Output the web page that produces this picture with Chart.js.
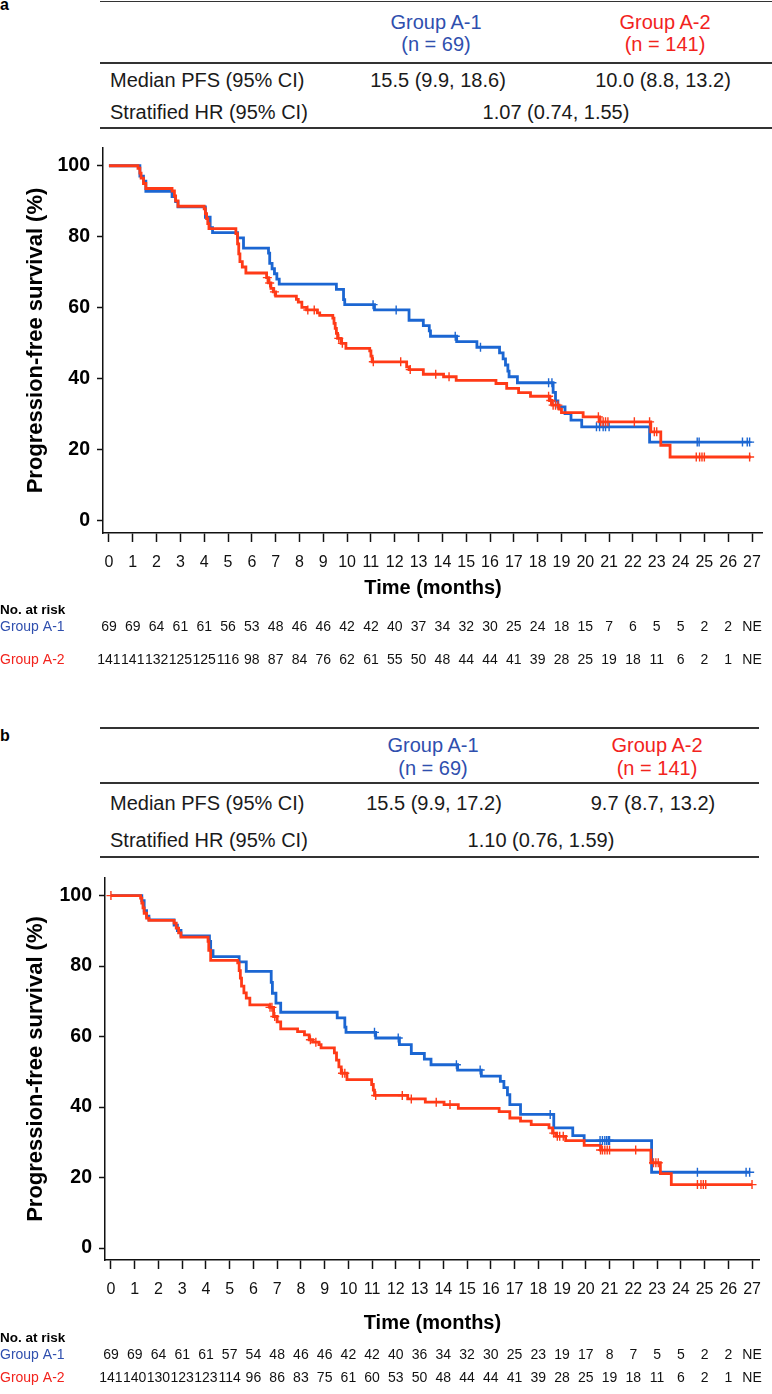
<!DOCTYPE html>
<html lang="en">
<head>
<meta charset="UTF-8">
<title>Progression-free survival</title>
<style>
  body { margin: 0; background: #fff; font-family: 'Liberation Sans', Arial, sans-serif; }
  #page { position: relative; width: 772px; height: 1394px; overflow: hidden; }
  canvas { position: absolute; left: 0; }
  .t { position: absolute; font-size: 20px; line-height: 24px; color: #1a1a1a; white-space: nowrap; }
  .c { transform: translateX(-50%); }
  .rule { position: absolute; height: 1.5px; background: #333; }
  .blue { color: #2f4fae; }
  .red { color: #f2231d; }
  .panel { position: absolute; left: 0; font-weight: bold; font-size: 16px; line-height: 16px; color: #000; }
</style>
</head>
<body>
<div id="page">
  <!-- panel a summary -->
  <div class="panel" style="top:-3px">a</div>
  <div class="rule" style="top:0.5px;left:100px;width:672px"></div>
  <div class="t c blue" style="top:10px;left:436px">Group A-1</div>
  <div class="t c blue" style="top:32px;left:436px">(n = 69)</div>
  <div class="t c red" style="top:10px;left:665px">Group A-2</div>
  <div class="t c red" style="top:32px;left:665px">(n = 141)</div>
  <div class="rule" style="top:62px;left:100px;width:672px"></div>
  <div class="t" style="top:68px;left:110px">Median PFS (95% CI)</div>
  <div class="t c" style="top:68px;left:438px">15.5 (9.9, 18.6)</div>
  <div class="t c" style="top:68px;left:663px">10.0 (8.8, 13.2)</div>
  <div class="t" style="top:100px;left:110px">Stratified HR (95% CI)</div>
  <div class="t c" style="top:100px;left:556px">1.07 (0.74, 1.55)</div>
  <div class="rule" style="top:127px;left:100px;width:672px"></div>
  <canvas id="chartA" width="772" height="690" style="top:0"></canvas>

  <!-- panel b summary -->
  <div class="panel" style="top:728px">b</div>
  <div class="rule" style="top:727px;left:100px;width:659px"></div>
  <div class="t c blue" style="top:733px;left:433px">Group A-1</div>
  <div class="t c blue" style="top:756px;left:433px">(n = 69)</div>
  <div class="t c red" style="top:733px;left:657px">Group A-2</div>
  <div class="t c red" style="top:756px;left:657px">(n = 141)</div>
  <div class="rule" style="top:782px;left:100px;width:659px"></div>
  <div class="t" style="top:791px;left:110px">Median PFS (95% CI)</div>
  <div class="t c" style="top:791px;left:434px">15.5 (9.9, 17.2)</div>
  <div class="t c" style="top:791px;left:653px">9.7 (8.7, 13.2)</div>
  <div class="t" style="top:828px;left:110px">Stratified HR (95% CI)</div>
  <div class="t c" style="top:828px;left:541px">1.10 (0.76, 1.59)</div>
  <div class="rule" style="top:856px;left:100px;width:659px"></div>
  <canvas id="chartB" width="772" height="704" style="top:690px"></canvas>
</div>

<script src="https://cdn.jsdelivr.net/npm/chart.js@4.4.1/dist/chart.umd.min.js"></script>
<script>
  const months = [0,1,2,3,4,5,6,7,8,9,10,11,12,13,14,15,16,17,18,19,20,21,22,23,24,25,26,27];
  const yTicks = [0, 20, 40, 60, 80, 100];

  // panel a - Group A-1
  const aA1Time = [0,1.3,1.45,1.55,2.65,2.8,2.9,4.05,4.25,4.35,5.4,5.65,6.7,6.75,6.85,6.95,7.05,7.15,9.55,9.85,9.9,11.15,12.6,13.2,13.45,13.5,14.6,15.45,16.4,16.55,16.65,16.75,16.8,17.15,18.65,18.75,18.85,19.15,19.4,19.85,22.7,26.9];
  const aA1Surv = [100,97.1,95.7,92.8,91.3,89.9,88.4,85.5,82.6,81.2,79.7,76.8,75.4,72.5,71.0,69.6,68.1,66.7,65.2,62.3,60.9,59.4,56.5,55.0,53.5,52.0,50.5,48.9,47.3,45.6,43.9,42.2,40.6,38.9,36.2,33.8,32.1,30.2,28.4,26.5,22.2,22.2];
  const aA1Cens = [11.09,12.06,14.54,15.6,18.46,18.6,20.47,20.6,20.75,20.85,21.0,24.7,24.78,26.6,26.8,26.9];
  // panel a - Group A-2
  const aA2Time = [0,1.22,1.3,1.35,1.45,1.55,2.65,2.75,2.8,2.9,4.0,4.05,4.1,4.15,4.2,5.33,5.4,5.45,5.5,5.6,5.75,6.62,6.7,6.8,6.9,7.0,7.87,7.95,8.1,8.3,8.75,8.85,9.4,9.45,9.5,9.55,9.6,9.75,9.95,10.95,11.0,11.05,12.5,12.6,13.2,14.05,14.58,16.25,16.7,17.2,17.7,18.5,18.6,18.9,19.0,19.91,20.6,22.75,23.17,23.56,26.95];
  const aA2Surv = [100,99.3,97.9,96.5,95.0,93.6,92.9,91.5,90.1,88.6,87.9,86.5,85.1,83.7,82.3,80.9,78.0,75.2,73.0,71.5,69.8,68.5,67.0,65.5,64.5,63.3,62.4,61.6,60.1,59.4,58.6,57.9,57.1,55.6,54.2,52.8,51.4,50.0,48.6,47.9,46.4,44.8,43.4,42.6,41.3,40.6,39.6,38.7,37.3,36.1,35.1,33.9,32.6,31.5,30.5,29.3,27.9,25.1,21.3,18.0,18.0];
  const aA2Cens = [6.65,6.75,6.95,8.35,8.62,9.65,9.8,11.1,12.25,12.65,13.72,14.28,18.46,18.55,18.65,18.75,18.85,20.55,20.65,20.75,20.85,20.95,22.06,22.7,22.9,23.0,24.66,24.8,24.9,25.0,26.9];
  const aRiskA1 = [69,69,64,61,61,56,53,48,46,46,42,42,40,37,34,32,30,25,24,18,15,7,6,5,5,2,2,'NE'];
  const aRiskA2 = [141,141,132,125,125,116,98,87,84,76,62,61,55,50,48,44,44,41,39,28,25,19,18,11,6,2,1,'NE'];

  // panel b - Group A-1
  const bA1Time = [0,1.3,1.4,1.5,1.6,2.66,2.8,2.95,4.15,4.2,4.3,5.4,5.7,6.75,6.8,6.95,7.15,9.53,9.85,9.9,11.15,12.15,12.65,13.2,13.48,14.6,15.6,16.4,16.55,16.7,16.8,17.25,18.65,19.45,19.93,22.77,26.9];
  const bA1Surv = [100,98.6,95.7,94.2,93.1,91.6,90.1,88.6,87.0,84.4,82.7,81.2,78.5,75.4,72.3,69.5,66.9,65.3,62.7,61.2,59.6,57.7,55.2,53.6,52.0,50.5,48.8,47.3,45.5,43.5,40.7,37.9,34.1,31.9,30.5,21.5,21.5];
  const bA1Cens = [11.1,12.1,14.55,15.55,18.5,20.6,20.7,20.8,20.88,20.95,21.0,24.7,26.75,26.9];
  // panel b - Group A-2
  const bA2Time = [0,1.25,1.3,1.35,1.4,1.5,1.6,2.66,2.75,2.85,2.95,4.09,4.12,4.2,5.34,5.4,5.45,5.5,5.6,5.7,5.85,6.68,6.85,7.0,7.15,7.86,8.15,8.35,8.5,8.76,8.85,9.41,9.5,9.6,9.7,9.94,10.98,11.05,11.1,12.5,13.24,14.03,14.63,16.35,16.8,17.25,17.7,18.45,18.6,18.75,19.15,19.93,20.62,22.74,23.14,23.6,27.0];
  const bA2Surv = [100,99.3,97.9,96.5,95.0,93.6,93.0,92.2,90.8,89.4,88.2,87.0,84.5,81.6,80.9,78.7,76.6,74.3,72.4,70.9,69.0,68.3,65.7,64.2,62.2,61.4,60.5,59.1,58.4,57.7,56.8,55.4,53.3,51.4,49.6,47.8,46.4,44.8,43.3,42.3,41.4,40.7,39.6,38.7,36.9,36.0,35.0,34.1,32.6,31.7,30.5,29.1,27.8,24.2,21.1,18.0,18.0];
  const bA2Cens = [0,6.7,6.78,6.9,8.4,8.63,9.75,9.85,11.15,12.27,12.65,13.7,14.28,18.65,18.8,18.9,19.05,20.62,20.7,20.8,20.9,21.0,22.1,22.85,22.95,23.05,24.7,24.85,24.95,25.05,27.0];
  const bRiskA1 = [69,69,64,61,61,57,54,48,46,46,42,42,40,36,34,32,30,25,23,19,17,8,7,5,5,2,2,'NE'];
  const bRiskA2 = [141,140,130,123,123,114,96,86,83,75,61,60,53,50,48,44,44,41,39,28,25,19,18,11,6,2,1,'NE'];

  const BLUE = '#1b66d2';
  const RED = '#ff3a17';
  const FONT = "'Liberation Sans', Arial, sans-serif";
  Chart.defaults.font.family = FONT;
  Chart.defaults.color = '#000';

  const pts = (t, s) => t.map((v, i) => ({x: v, y: s[i]}));
  // censor mark sits on the curve's level at that time
  const cens = (t, s, c) => c.map(ct => {
    let y = s[0];
    t.forEach((tt, i) => { if (ct >= tt) y = s[i]; });
    return {x: ct, y: y};
  });

  const riskTable = {
    id: 'riskTable',
    afterDraw(chart, args, opts) {
      const ctx = chart.ctx, xs = chart.scales.x;
      ctx.save();
      ctx.textBaseline = 'middle';
      ctx.textAlign = 'left';
      ctx.fillStyle = '#000';
      ctx.font = 'bold 13.5px ' + FONT;
      ctx.fillText('No. at risk', 0, opts.headY);
      opts.rows.forEach(r => {
        ctx.textAlign = 'left';
        ctx.font = '14px ' + FONT;
        ctx.fillStyle = r.color;
        ctx.fillText(r.label, 0, r.y);
        ctx.fillStyle = '#111';
        ctx.textAlign = 'center';
        months.forEach((m, i) => ctx.fillText(String(r.values[i]), xs.getPixelForValue(m), r.y));
      });
      ctx.restore();
    }
  };

  function kmChart(id, p) {
    return new Chart(document.getElementById(id), {
      type: 'line',
      data: {
        datasets: [
          {label: 'Group A-2', data: pts(p.t2, p.s2), borderColor: RED, borderWidth: 2.8, stepped: true, pointRadius: 0, order: 2},
          {label: 'Group A-1', data: pts(p.t1, p.s1), borderColor: BLUE, borderWidth: 2.8, stepped: true, pointRadius: 0, order: 3},
          {label: 'A-2 censored', data: cens(p.t2, p.s2, p.c2), showLine: false, pointStyle: 'cross', pointRadius: 4.5, borderColor: RED, borderWidth: 1.4, order: 0},
          {label: 'A-1 censored', data: cens(p.t1, p.s1, p.c1), showLine: false, pointStyle: 'cross', pointRadius: 4.5, borderColor: BLUE, borderWidth: 1.4, order: 1}
        ]
      },
      options: {
        responsive: false,
        animation: false,
        layout: {padding: {top: p.top, right: p.right, left: 0, bottom: 0}},
        plugins: {
          legend: {display: false},
          tooltip: {enabled: false},
          riskTable: {headY: p.headY, rows: [
            {label: 'Group A-1', color: '#2f4fae', y: p.r1y, values: p.r1},
            {label: 'Group A-2', color: '#f2231d', y: p.r2y, values: p.r2}
          ]}
        },
        scales: {
          x: {
            type: 'linear', min: p.xmin, max: p.xmax,
            afterBuildTicks: s => { s.ticks = months.map(v => ({value: v})); },
            afterFit: s => { s.height = p.xh; },
            grid: {drawOnChartArea: false, tickLength: 9, tickWidth: 1.5, tickColor: '#111'},
            border: {color: '#111', width: 1.5},
            ticks: {font: {size: 16}, color: '#111', padding: 11, maxRotation: 0, autoSkip: false},
            title: {display: true, text: 'Time (months)', font: {size: 20, weight: 'bold'}, padding: {top: 0, bottom: p.xtp}}
          },
          y: {
            min: -3.4, max: 105,
            afterBuildTicks: s => { s.ticks = yTicks.map(v => ({value: v})); },
            afterFit: s => { s.width = p.yw; },
            grid: {drawOnChartArea: false, tickLength: 6, tickWidth: 1.5, tickColor: '#111'},
            border: {color: '#111', width: 1.5},
            ticks: {font: {size: 19.5, weight: 'bold'}, padding: 7},
            title: {display: true, text: 'Progression-free survival (%)', font: {size: 22, weight: 'bold'}, padding: {top: 23, bottom: 0}}
          }
        }
      },
      plugins: [riskTable]
    });
  }

  kmChart('chartA', {
    t1: aA1Time, s1: aA1Surv, c1: aA1Cens, t2: aA2Time, s2: aA2Surv, c2: aA2Cens,
    r1: aRiskA1, r2: aRiskA2, headY: 610, r1y: 627, r2y: 660,
    top: 148, right: 2, xh: 157, yw: 103, xmin: -0.249, xmax: 27.46, xtp: 90
  });
  kmChart('chartB', {
    t1: bA1Time, s1: bA1Surv, c1: bA1Cens, t2: bA2Time, s2: bA2Surv, c2: bA2Cens,
    r1: bRiskA1, r2: bRiskA2, headY: 648, r1y: 665, r2y: 688,
    top: 188, right: 4, xh: 134, yw: 105, xmin: -0.25, xmax: 27.33, xtp: 59
  });
</script>
</body>
</html>
